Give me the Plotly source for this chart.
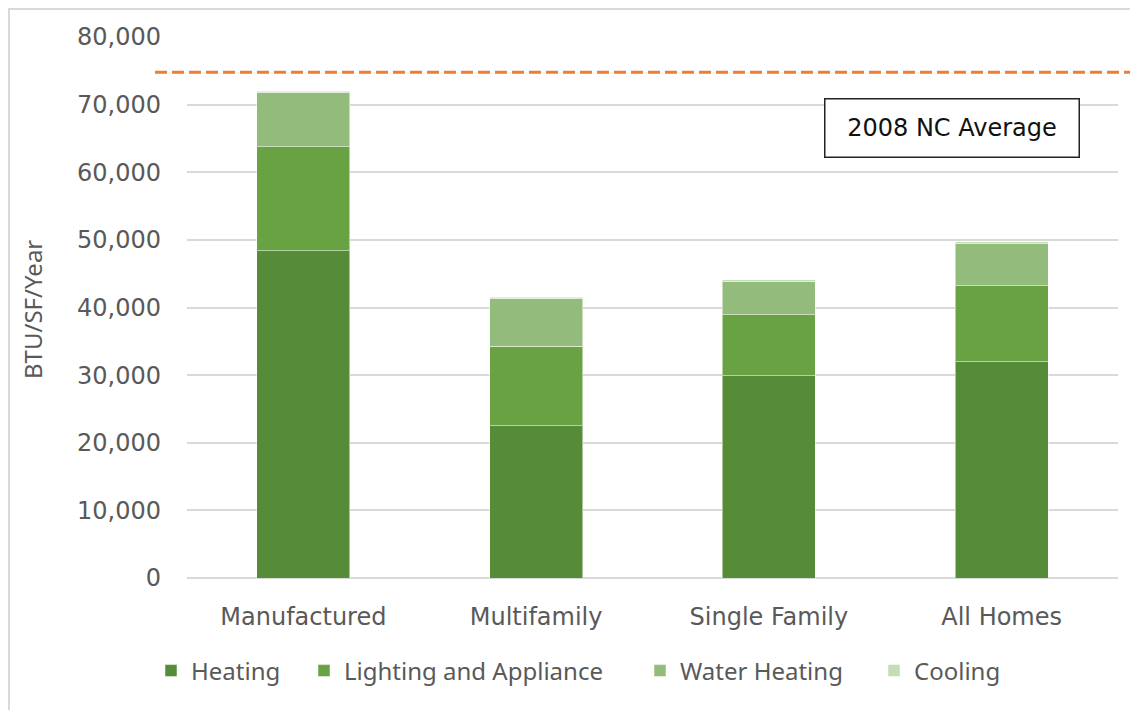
import plotly.graph_objects as go

# housing types and energy use per square foot (BTU/SF/Year)
categories = ['Manufactured', 'Multifamily', 'Single Family', 'All Homes']
heating = [48400, 22500, 29900, 32000]
lighting_appliance = [15400, 11800, 9000, 11200]
water_heating = [8000, 7000, 5000, 6300]
cooling = [200, 200, 200, 200]

nc_average_2008 = 74800
nc_label = '2008 NC Average'
y_ticks = [0, 10000, 20000, 30000, 40000, 50000, 60000, 70000, 80000]
y_max = 80000

series = [
    ('Heating', heating, '#568B37'),
    ('Lighting and Appliance', lighting_appliance, '#69A242'),
    ('Water Heating', water_heating, '#93BB7B'),
    ('Cooling', cooling, '#C3DDB4'),
]
# left edge of each legend swatch (screen px)
legend_x = [165, 318, 654, 888]

# the page puts the figure 8px in from the window corner
OFF = 8
W, H = 1138 - OFF, 710 - OFF
# paper spans the dashed line (155..1138), bars/grid sit in 187..1118
L, R, T, B = 155 - OFF, 0, 37 - OFF, 710 - 578
pw, ph = W - L - R, H - T - B


def px(x):
    return (x - OFF - L) / pw


def py(y):
    return (H - B - (y - OFF)) / ph


fig = go.Figure()
for i, (name, vals, color) in enumerate(series):
    fig.add_trace(go.Bar(
        x=categories, y=vals, name=name,
        legend='legend' if i == 0 else 'legend%d' % (i + 1),
        marker=dict(color=color, line=dict(color='rgba(255,255,255,0.5)', width=1)),
    ))

# dashed average line on a full-width overlay subplot so it runs past the grid
fig.add_trace(go.Scatter(
    x=[0, 1], y=[nc_average_2008, nc_average_2008], xaxis='x2', yaxis='y2',
    mode='lines', line=dict(color='#ED7D31', width=3, dash='12px,5px'),
    showlegend=False, hoverinfo='skip',
))

# outer frame (left and top edges)
fig.add_shape(type='line', xref='paper', yref='paper',
              x0=px(9), x1=px(9), y0=py(8), y1=py(715),
              line=dict(color='#D9D9D9', width=2))
fig.add_shape(type='line', xref='paper', yref='paper',
              x0=px(8), x1=px(1140), y0=py(9), y1=py(9),
              line=dict(color='#D9D9D9', width=2))

fig.add_annotation(xref='paper', yref='paper', x=px(951.5), y=py(127.5),
                   xanchor='center', yanchor='middle',
                   text=nc_label, showarrow=False,
                   font=dict(family='DejaVu Sans', size=24, color='#111111'),
                   width=253, height=57, bgcolor='white',
                   bordercolor='#222222', borderwidth=1.5, borderpad=0)

fig.add_annotation(xref='paper', yref='paper', x=px(32), y=py(310),
                   xanchor='center', yanchor='middle',
                   text='BTU/SF/Year', textangle=-90, showarrow=False,
                   font=dict(family='Noto Sans', size=24, color='#595959'))

legend_font = dict(family='Noto Sans', size=24, color='#595959')
legends = {}
for i, lx in enumerate(legend_x):
    key = 'legend' if i == 0 else 'legend%d' % (i + 1)
    legends[key] = dict(x=px(lx - 14), xanchor='left', y=py(671), yanchor='middle',
                        orientation='h', font=legend_font, bgcolor='rgba(0,0,0,0)')

fig.update_layout(
    barmode='stack',
    bargap=0.6,
    width=W, height=H,
    margin=dict(l=L, r=R, t=T, b=B),
    paper_bgcolor='white', plot_bgcolor='rgba(0,0,0,0)',
    xaxis=dict(domain=[px(187), px(1118)],
               tickfont=dict(family='DejaVu Sans', size=24, color='#595959'),
               showline=False, ticks='', ticklabelstandoff=22),
    yaxis=dict(range=[0, y_max], tickvals=y_ticks, tickformat=',',
               tickfont=dict(family='DejaVu Sans', size=24, color='#595959'),
               showgrid=True, gridcolor='#D9D9D9', gridwidth=2,
               zeroline=True, zerolinecolor='#D9D9D9', zerolinewidth=2,
               ticklabelstandoff=25),
    xaxis2=dict(domain=[0, 1], range=[0, 1], anchor='y2', visible=False),
    yaxis2=dict(range=[0, y_max], anchor='x2', visible=False, matches='y'),
    **legends,
)

fig.write_html('out.html')
